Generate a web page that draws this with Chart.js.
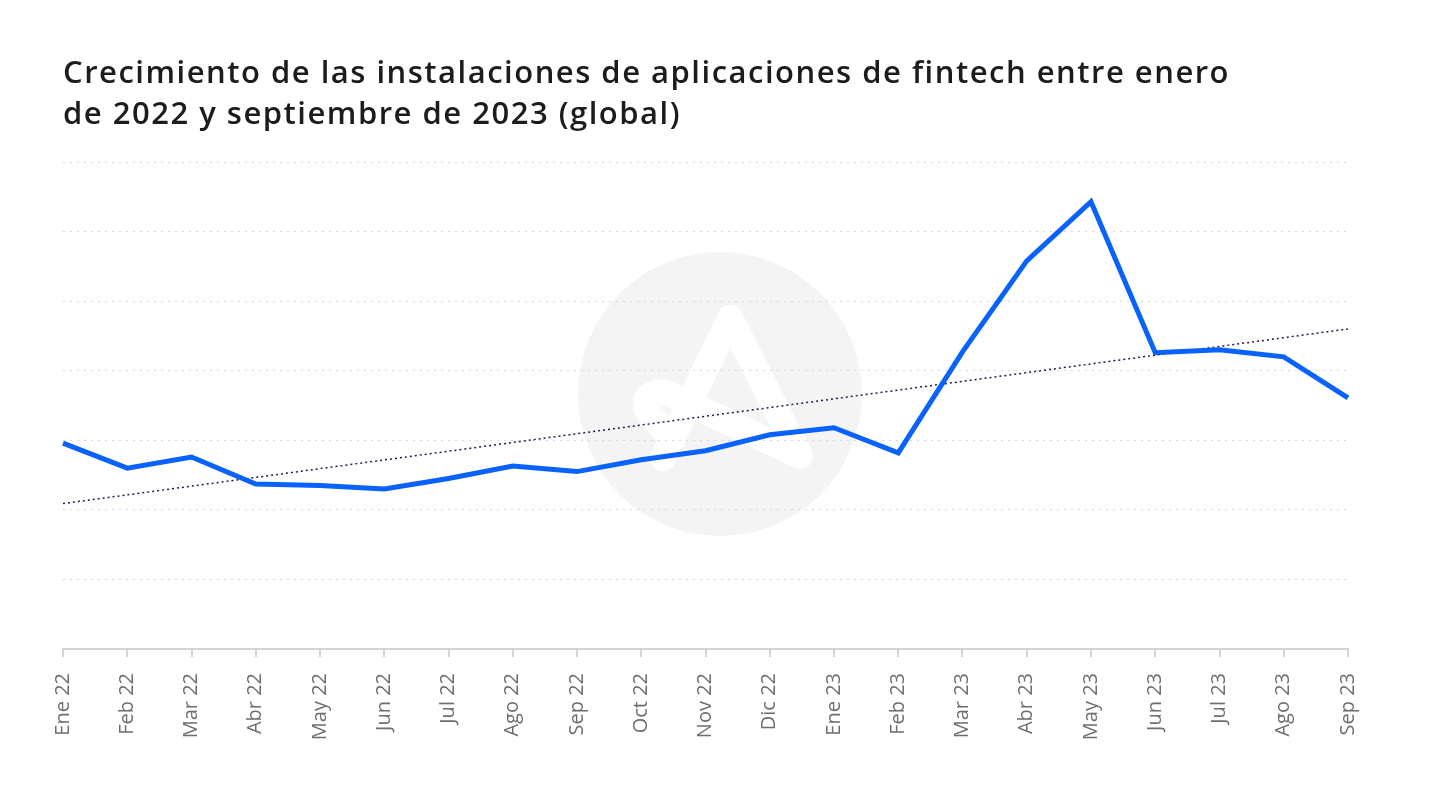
<!DOCTYPE html>
<html lang="es">
<head>
    <meta charset="UTF-8">
    <title>Instalaciones fintech</title>
    <script src="https://cdn.jsdelivr.net/npm/chart.js"></script>
    <style>
        html, body { margin: 0; padding: 0; background: #fff; }
        .wrap { position: relative; width: 1440px; height: 789px; }
        h1 {
            position: absolute; left: 63px; top: 51px; margin: 0;
            font-family: "Open Sans", sans-serif; font-weight: 600;
            font-size: 31px; line-height: 41px; color: #1c1c1e;
            letter-spacing: 1.5px; z-index: 2; white-space: nowrap;
        }
        #chart { position: absolute; left: 0; top: 0; }
    </style>
</head>
<body>
    <div class="wrap">
        <h1>Crecimiento de las instalaciones de aplicaciones de fintech entre enero<br>de 2022 y septiembre de 2023 (global)</h1>
        <canvas id="chart" width="1440" height="789"></canvas>
    </div>
    <script>
        const months = ['Ene 22', 'Feb 22', 'Mar 22', 'Abr 22', 'May 22', 'Jun 22', 'Jul 22',
            'Ago 22', 'Sep 22', 'Oct 22', 'Nov 22', 'Dic 22', 'Ene 23', 'Feb 23', 'Mar 23',
            'Abr 23', 'May 23', 'Jun 23', 'Jul 23', 'Ago 23', 'Sep 23'];
        const installs = [2.96, 2.60, 2.76, 2.37, 2.35, 2.30, 2.45, 2.63, 2.55, 2.72, 2.85,
            3.08, 3.18, 2.82, 4.27, 5.58, 6.43, 4.26, 4.30, 4.20, 3.61];
        // trend line: only the two ends are read, the library joins them
        const trend = [2.09, null, null, null, null, null, null, null, null, null, null,
            null, null, null, null, null, null, null, null, null, 4.60];

        // grey round watermark behind the plot
        const watermark = {
            id: 'watermark',
            beforeDraw(chart) {
                const c = chart.ctx;
                c.save();
                c.fillStyle = '#f4f4f4';
                c.beginPath();
                c.arc(720, 394, 142, 0, Math.PI * 2);
                c.fill();
                c.strokeStyle = '#ffffff';
                c.lineWidth = 26;
                c.lineCap = 'round';
                c.lineJoin = 'round';
                c.beginPath();
                c.moveTo(663, 458);
                c.lineTo(730, 318);
                c.lineTo(800, 456);
                c.stroke();
                c.beginPath();
                c.moveTo(800, 456);
                c.lineTo(665, 392);
                c.quadraticCurveTo(640, 392, 648, 412);
                c.lineTo(662, 428);
                c.stroke();
                c.restore();
            }
        };

        new Chart(document.getElementById('chart'), {
            type: 'line',
            data: {
                labels: months,
                datasets: [{
                    data: trend,
                    spanGaps: true,
                    borderColor: '#1b1f4a',
                    borderWidth: 1.5,
                    borderDash: [2, 3],
                    pointRadius: 0,
                    order: 2
                }, {
                    data: installs,
                    borderColor: '#0862fb',
                    borderWidth: 5,
                    pointRadius: 0,
                    tension: 0,
                    order: 1
                }]
            },
            plugins: [watermark],
            options: {
                responsive: false,
                animation: false,
                layout: { padding: { left: 63, right: 92, top: 162, bottom: 0 } },
                plugins: { legend: { display: false }, tooltip: { enabled: false } },
                scales: {
                    x: {
                        offset: false,
                        afterFit(s) { s.height = 140; },
                        border: { color: '#d4d4d4', width: 2 },
                        grid: { drawOnChartArea: false, drawTicks: true, tickLength: 8, color: '#d4d4d4', lineWidth: 2 },
                        ticks: {
                            minRotation: 90, maxRotation: 90, autoSkip: false, padding: 16,
                            color: '#6e6e6e', font: { family: 'Open Sans', size: 20 }
                        }
                    },
                    y: {
                        min: 0, max: 7,
                        afterFit(s) { s.width = 0; },
                        grid: { color: '#d6d6d6', lineWidth: 1, drawTicks: false },
                        border: { display: false, dash: [2, 5] },
                        ticks: { display: false, stepSize: 1 }
                    }
                }
            }
        });
    </script>
</body>
</html>
